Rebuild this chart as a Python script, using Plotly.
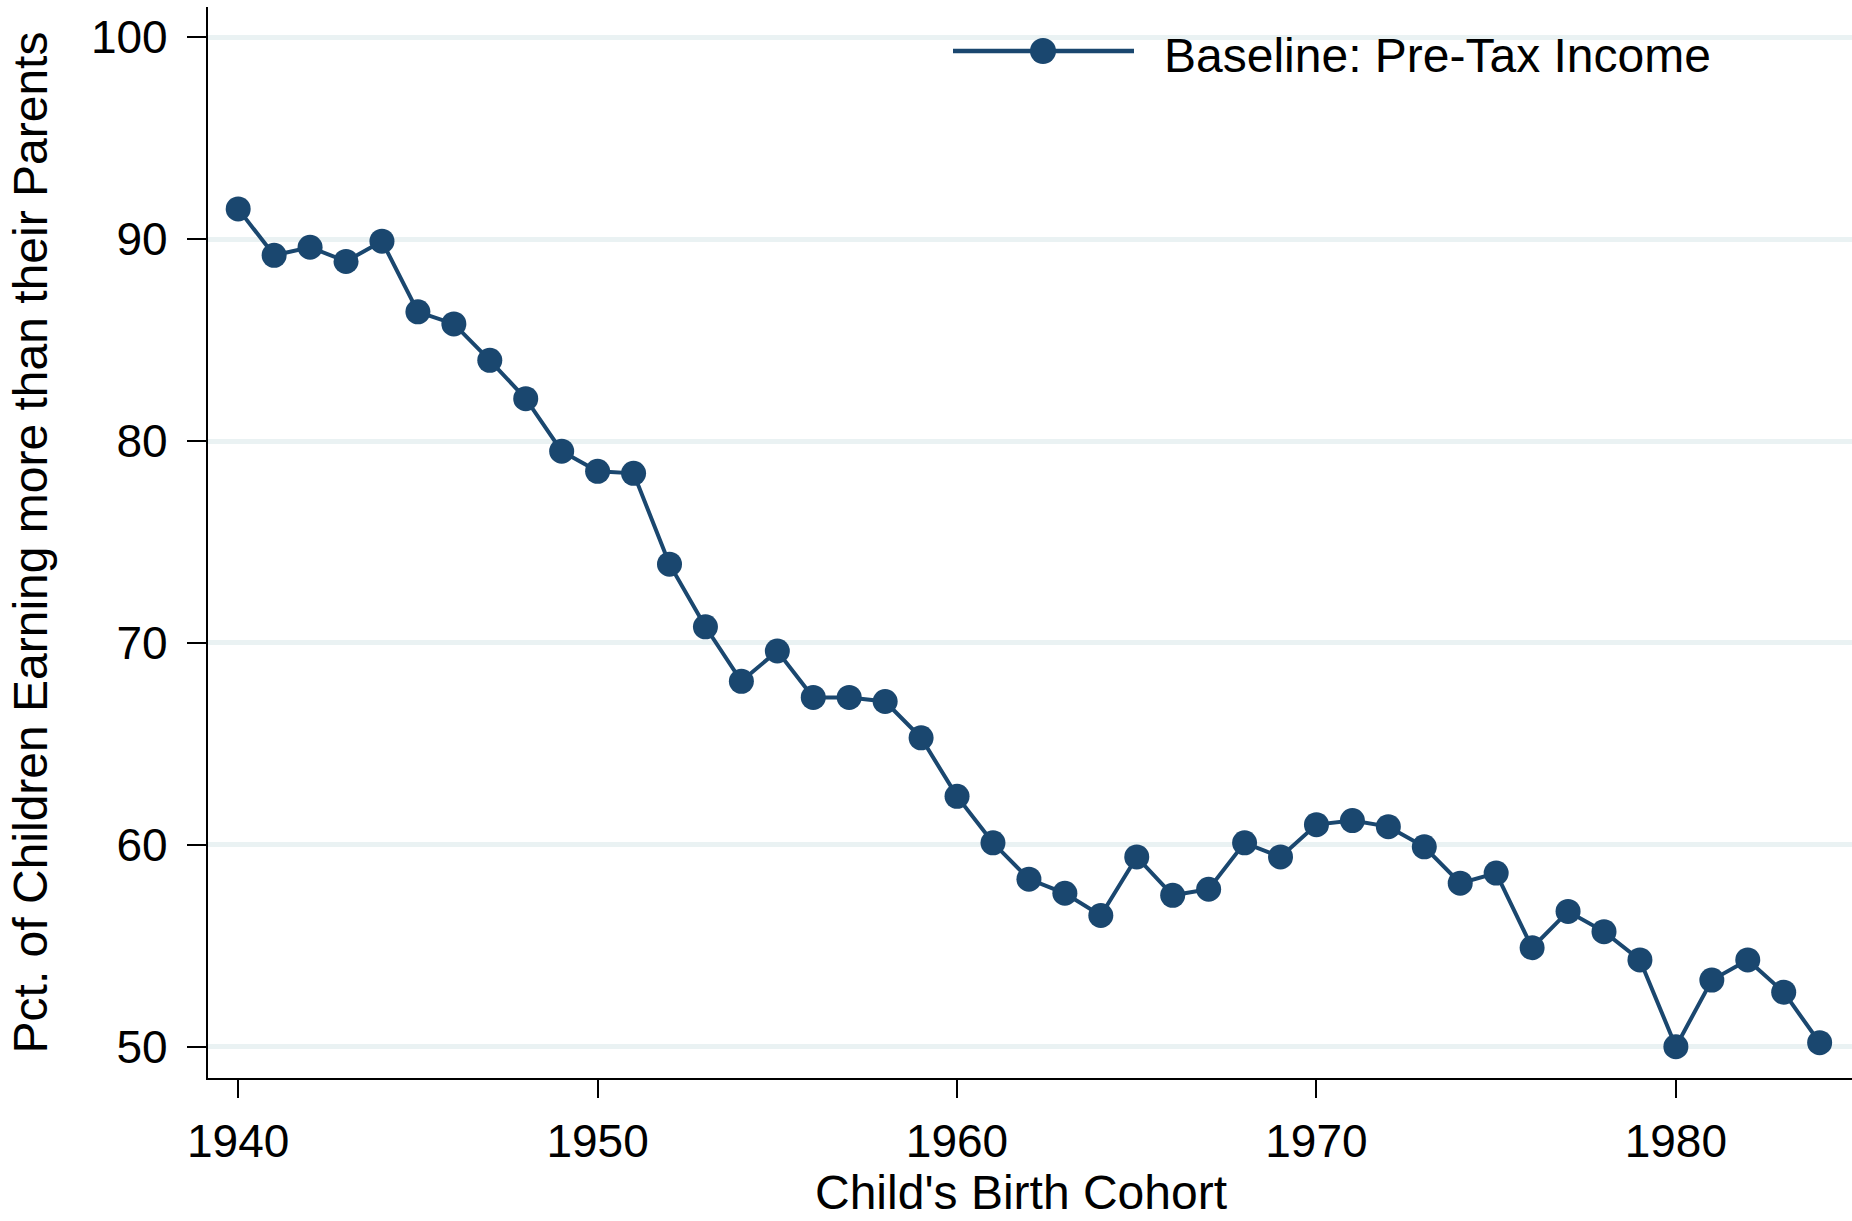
import plotly.graph_objects as go

# cohort years and share of children out-earning their parents (pct)
cohort = list(range(1940, 1985))
pct_earning_more = [91.5, 89.2, 89.6, 88.9, 89.9, 86.4, 85.8, 84.0, 82.1, 79.5,
                    78.5, 78.4, 73.9, 70.8, 68.1, 69.6, 67.3, 67.3, 67.1, 65.3,
                    62.4, 60.1, 58.3, 57.6, 56.5, 59.4, 57.5, 57.8, 60.1, 59.4,
                    61.0, 61.2, 60.9, 59.9, 58.1, 58.6, 54.9, 56.7, 55.7, 54.3,
                    50.0, 53.3, 54.3, 52.7, 50.2]
x_ticks = [1940, 1950, 1960, 1970, 1980]
y_ticks = [50, 60, 70, 80, 90, 100]
series_name = 'Baseline: Pre-Tax Income'
x_title = "Child's Birth Cohort"
y_title = 'Pct. of Children Earning more than their Parents'

NAVY = '#1A476F'
GRID = '#EAF2F3'
FONT = 'Liberation Sans, Arial, Helvetica, sans-serif'

W, H = 1852, 1221
M = dict(l=208, r=0, t=7, b=143)
PW, PH = W - M['l'] - M['r'], H - M['t'] - M['b']


def px_x(px):
    return (px - M['l']) / PW


def px_y(py):
    return 1 - (py - M['t']) / PH


trace = go.Scatter(
    x=cohort,
    y=pct_earning_more,
    mode='lines+markers',
    name=series_name,
    line=dict(color=NAVY, width=4),
    marker=dict(color=NAVY, size=25),
    showlegend=False)

# legend key drawn by hand so the sample line is as long as in the original
leg_y = px_y(51)
shapes = [
    dict(type='line', xref='paper', yref='paper',
         x0=px_x(953), x1=px_x(1134), y0=leg_y, y1=leg_y,
         line=dict(color=NAVY, width=4.3)),
    dict(type='circle', xref='paper', yref='paper',
         xsizemode='pixel', ysizemode='pixel',
         xanchor=px_x(1043), yanchor=leg_y,
         x0=-13, x1=13, y0=-13, y1=13,
         fillcolor=NAVY, line=dict(color=NAVY, width=0)),
]
annotations = [
    dict(text=series_name, xref='paper', yref='paper',
         x=px_x(1162), y=px_y(56), xanchor='left', yanchor='middle',
         showarrow=False, font=dict(size=48, color='black', family=FONT)),
    # x title sits lower than plotly lets an axis title go, so place it directly
    dict(text=x_title, xref='paper', yref='paper',
         x=px_x(1021), y=px_y(1192), xanchor='center', yanchor='middle',
         showarrow=False, font=dict(size=48, color='black', family=FONT)),
]

layout = go.Layout(
    width=W, height=H,
    margin=M,
    paper_bgcolor='white',
    plot_bgcolor='white',
    font=dict(family=FONT, color='black', size=46),
    xaxis=dict(range=[1939.16, 1984.9], tickvals=x_ticks,
               showgrid=False, zeroline=False,
               showline=True, linecolor='black', linewidth=2.3,
               ticks='outside', ticklen=18, tickwidth=2, tickcolor='black',
               tickfont=dict(size=46), ticklabelstandoff=4,
               automargin=False),
    yaxis=dict(range=[48.45, 101.5], tickvals=y_ticks,
               showgrid=True, gridcolor=GRID, gridwidth=4.5, zeroline=False,
               showline=True, linecolor='black', linewidth=2.3,
               ticks='outside', ticklen=19, tickwidth=2, tickcolor='black',
               tickfont=dict(size=46), ticklabelstandoff=10,
               title=dict(text=y_title, font=dict(size=48), standoff=28),
               automargin=False),
    shapes=shapes,
    annotations=annotations,
)

fig = go.Figure(data=[trace], layout=layout)
# drop the browser's default body margin so the figure sits at the page corner
fig.write_html('out.html', config={'displayModeBar': False},
               post_script='document.body.style.margin = "0";')
